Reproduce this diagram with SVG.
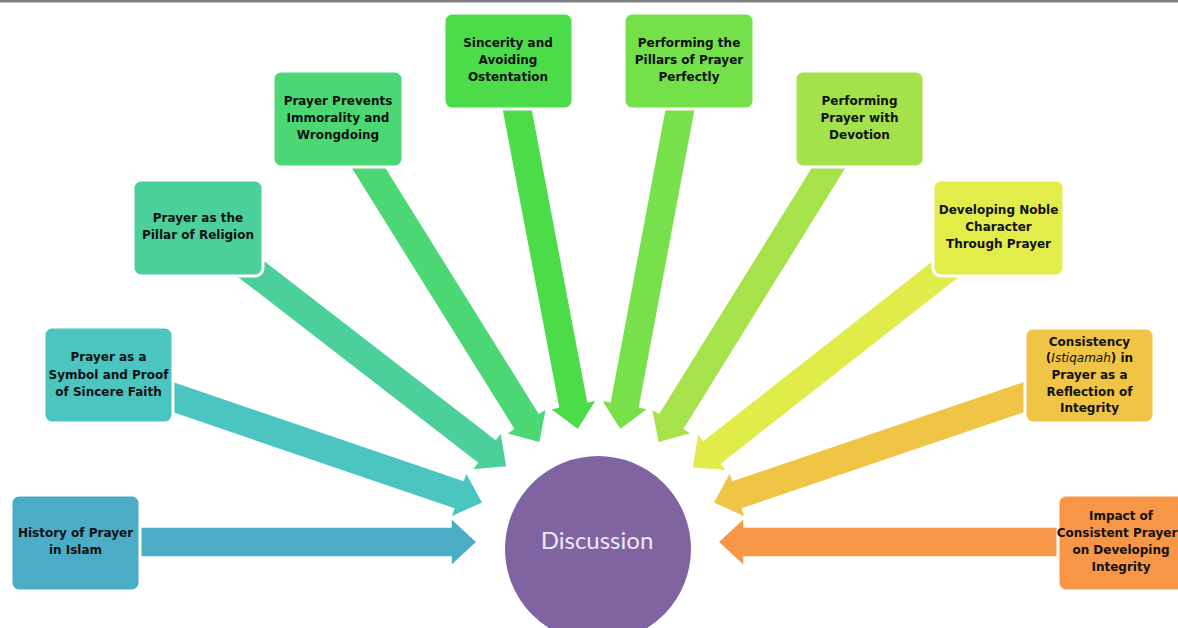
<svg xmlns="http://www.w3.org/2000/svg" width="1178" height="628" viewBox="0 0 1178 628">
<style>
.box{stroke:#ffffff;stroke-width:3}
.arr{stroke:#ffffff;stroke-width:1.5;stroke-linejoin:miter}
.t{font-family:"DejaVu Sans",sans-serif;font-weight:bold;font-size:12px;fill:#111111;text-anchor:middle}
.c{font-family:Lato,"Open Sans",sans-serif;font-size:24px;fill:#eee8f6;text-anchor:middle}
</style>
<rect x="0" y="0" width="1178" height="628" fill="#ffffff"/>
<rect x="0" y="0" width="1178" height="2.5" fill="#808080"/>
<g id="connectors">
<path class="arr" fill="#4bacc6" transform="translate(477,542) rotate(0)" d="M0,0 L-26,-24 L-26,-15 L-400,-15 L-400,15 L-26,15 L-26,24 Z"/>
<path class="arr" fill="#4bc5bf" transform="translate(483,503) rotate(18.85)" d="M0,0 L-26,-24 L-26,-15 L-396,-15 L-396,15 L-26,15 L-26,24 Z"/>
<path class="arr" fill="#4bcf9b" transform="translate(507,467) rotate(37.72)" d="M0,0 L-26,-24 L-26,-15 L-391,-15 L-391,15 L-26,15 L-26,24 Z"/>
<path class="arr" fill="#4bd874" transform="translate(540,443) rotate(58.06)" d="M0,0 L-26,-24 L-26,-15 L-382,-15 L-382,15 L-26,15 L-26,24 Z"/>
<path class="arr" fill="#4cdc4a" transform="translate(578,430) rotate(79.26)" d="M0,0 L-26,-24 L-26,-15 L-376,-15 L-376,15 L-26,15 L-26,24 Z"/>
<path class="arr" fill="#78e04a" transform="translate(620,430) rotate(100.6)" d="M0,0 L-26,-24 L-26,-15 L-375,-15 L-375,15 L-26,15 L-26,24 Z"/>
<path class="arr" fill="#a6e24a" transform="translate(658,443) rotate(121.8)" d="M0,0 L-26,-24 L-26,-15 L-381,-15 L-381,15 L-26,15 L-26,24 Z"/>
<path class="arr" fill="#e0ec4a" transform="translate(692,468) rotate(141.9)" d="M0,0 L-26,-24 L-26,-15 L-389,-15 L-389,15 L-26,15 L-26,24 Z"/>
<path class="arr" fill="#f0c444" transform="translate(713,503) rotate(161.2)" d="M0,0 L-26,-24 L-26,-15 L-397,-15 L-397,15 L-26,15 L-26,24 Z"/>
<path class="arr" fill="#f79646" transform="translate(718,542) rotate(180)" d="M0,0 L-26,-24 L-26,-15 L-404,-15 L-404,15 L-26,15 L-26,24 Z"/>
</g>
<g id="center">
<circle cx="598" cy="549" r="94" fill="#8064a2" stroke="#ffffff" stroke-width="2"/>
<text class="c" x="597" y="549">Discussion</text>
</g>
<g id="n1">
<rect class="box" x="11" y="495" width="129" height="96" rx="8" fill="#4bacc6"/>
<text class="t" x="75.5" y="537">History of Prayer</text>
<text class="t" x="75.5" y="554">in Islam</text>
</g>
<g id="n2">
<rect class="box" x="44" y="327" width="129" height="96" rx="8" fill="#4bc5bf"/>
<text class="t" x="108.5" y="361">Prayer as a</text>
<text class="t" x="108.5" y="379">Symbol and Proof</text>
<text class="t" x="108.5" y="396">of Sincere Faith</text>
</g>
<g id="n3">
<rect class="box" x="133" y="180" width="130" height="96" rx="8" fill="#4bcf9b"/>
<text class="t" x="198" y="222">Prayer as the</text>
<text class="t" x="198" y="239">Pillar of Religion</text>
</g>
<g id="n4">
<rect class="box" x="273" y="71" width="130" height="96" rx="8" fill="#4bd874"/>
<text class="t" x="338" y="105">Prayer Prevents</text>
<text class="t" x="338" y="122">Immorality and</text>
<text class="t" x="338" y="139">Wrongdoing</text>
</g>
<g id="n5">
<rect class="box" x="444" y="13" width="129" height="96" rx="8" fill="#4cdc4a"/>
<text class="t" x="508" y="47">Sincerity and</text>
<text class="t" x="508" y="64">Avoiding</text>
<text class="t" x="508" y="81">Ostentation</text>
</g>
<g id="n6">
<rect class="box" x="624" y="13" width="130" height="96" rx="8" fill="#74e04a"/>
<text class="t" x="689" y="47">Performing the</text>
<text class="t" x="689" y="64">Pillars of Prayer</text>
<text class="t" x="689" y="81">Perfectly</text>
</g>
<g id="n7">
<rect class="box" x="795" y="71" width="129" height="96" rx="8" fill="#a3e24a"/>
<text class="t" x="859.5" y="105">Performing</text>
<text class="t" x="859.5" y="122">Prayer with</text>
<text class="t" x="859.5" y="139">Devotion</text>
</g>
<g id="n8">
<rect class="box" x="933" y="180" width="131" height="96" rx="8" fill="#e2ed4a"/>
<text class="t" x="998.5" y="214">Developing Noble</text>
<text class="t" x="998.5" y="231">Character</text>
<text class="t" x="998.5" y="248">Through Prayer</text>
</g>
<g id="n9">
<rect class="box" x="1025" y="328" width="129" height="95" rx="8" fill="#f0c444"/>
<text class="t" x="1089.5" y="346">Consistency</text>
<text class="t" x="1089.5" y="362">(<tspan font-style="italic" font-weight="normal">Istiqamah</tspan>) in</text>
<text class="t" x="1089.5" y="379">Prayer as a</text>
<text class="t" x="1089.5" y="396">Reflection of</text>
<text class="t" x="1089.5" y="412">Integrity</text>
</g>
<g id="n10">
<rect class="box" x="1058" y="495" width="130" height="96" rx="8" fill="#f79646"/>
<text class="t" x="1121" y="520">Impact of</text>
<text class="t" x="1117" y="537" font-size="11.6px">Consistent Prayer</text>
<text class="t" x="1121" y="554">on Developing</text>
<text class="t" x="1121" y="571">Integrity</text>
</g>
</svg>
